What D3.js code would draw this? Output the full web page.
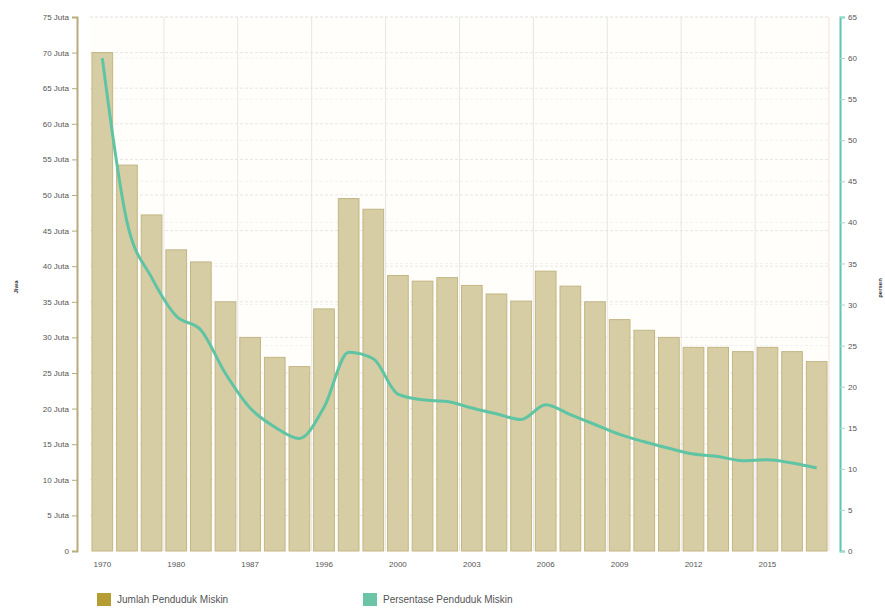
<!DOCTYPE html>
<html>
<head>
<meta charset="utf-8">
<script src="https://cdn.jsdelivr.net/npm/d3@7"></script>
<style>
  body { margin: 0; background: #fff; font-family: "Liberation Sans", Arial, sans-serif; }
  #wrapper { width: 885px; height: 614px; }
</style>
</head>
<body>
<div id="wrapper"></div>
<script>
// data
const years = ["1970", "1976", "1978", "1980", "1981", "1984", "1987", "1990", "1993", "1996",
    "1998", "1999", "2000", "2001", "2002", "2003", "2004", "2005", "2006", "2007",
    "2008", "2009", "2010", "2011", "2012", "2013", "2014", "2015", "2016", "2017"]
const jumlah = [70.0, 54.2, 47.2, 42.3, 40.6, 35.0, 30.0, 27.2, 25.9, 34.0,
    49.5, 48.0, 38.7, 37.9, 38.4, 37.3, 36.1, 35.1, 39.3, 37.2,
    35.0, 32.5, 31.0, 30.0, 28.6, 28.6, 28.0, 28.6, 28.0, 26.6]
const persen = [60.0, 40.1, 33.3, 28.6, 26.9, 21.6, 17.4, 15.1, 13.7, 17.5,
    24.2, 23.4, 19.1, 18.4, 18.2, 17.4, 16.7, 16.0, 17.8, 16.6,
    15.4, 14.2, 13.3, 12.5, 11.8, 11.5, 11.0, 11.1, 10.7, 10.1]
const labelYears = ["1970", "1980", "1987", "1996", "2000", "2003", "2006", "2009", "2012", "2015"]
const leftTicks = d3.range(0, 80, 5)
const rightTicks = d3.range(0, 70, 5)
const legendNames = ["Jumlah Penduduk Miskin", "Persentase Penduduk Miskin"]

const dimensions = {
    width: 885,
    height: 614,
    margin: { top: 17, right: 56, bottom: 63, left: 90 },
}
dimensions.boundedWidth = dimensions.width - dimensions.margin.left - dimensions.margin.right
dimensions.boundedHeight = dimensions.height - dimensions.margin.top - dimensions.margin.bottom

const wrapper = d3.select("#wrapper")
    .append("svg")
    .attr("width", dimensions.width)
    .attr("height", dimensions.height)

const bounds = wrapper.append("g")
    .attr("transform", `translate(${dimensions.margin.left},${dimensions.margin.top})`)

const rows = years.map((y, i) => ({ year: y, jumlah: jumlah[i], persen: persen[i] }))

// scales
const xScale = d3.scaleBand()
    .domain(years)
    .range([0, dimensions.boundedWidth])
    .paddingInner(0.16)
    .paddingOuter(0.08)

const yLeft = d3.scaleLinear()
    .domain([0, 75])
    .range([dimensions.boundedHeight, 0])

const yRight = d3.scaleLinear()
    .domain([0, 65])
    .range([dimensions.boundedHeight, 0])

// plot background
bounds.append("rect")
    .attr("width", dimensions.boundedWidth)
    .attr("height", dimensions.boundedHeight)
    .attr("fill", "#fffefa")

// grid
bounds.append("g").selectAll("line")
    .data(rightTicks.slice(1))
    .join("line")
    .attr("x1", 0).attr("x2", dimensions.boundedWidth)
    .attr("y1", d => yRight(d)).attr("y2", d => yRight(d))
    .attr("stroke", "#f0f3f2")
    .attr("stroke-dasharray", "3,2")

bounds.append("g").selectAll("line")
    .data(leftTicks.slice(1))
    .join("line")
    .attr("x1", 0).attr("x2", dimensions.boundedWidth)
    .attr("y1", d => yLeft(d)).attr("y2", d => yLeft(d))
    .attr("stroke", "#e6e6e6")
    .attr("stroke-dasharray", "3,2")

const step = xScale.step()
bounds.append("g").selectAll("line")
    .data(labelYears.slice(1))
    .join("line")
    .attr("x1", d => xScale(d) - step * xScale.paddingInner() / 2)
    .attr("x2", d => xScale(d) - step * xScale.paddingInner() / 2)
    .attr("y1", 0).attr("y2", dimensions.boundedHeight)
    .attr("stroke", "#e6e6e6")

bounds.append("line")
    .attr("x1", dimensions.boundedWidth).attr("x2", dimensions.boundedWidth)
    .attr("y1", 0).attr("y2", dimensions.boundedHeight)
    .attr("stroke", "#f5dede")

// bars
bounds.append("g").selectAll("rect")
    .data(rows)
    .join("rect")
    .attr("x", d => xScale(d.year))
    .attr("y", d => yLeft(d.jumlah))
    .attr("width", xScale.bandwidth())
    .attr("height", d => dimensions.boundedHeight - yLeft(d.jumlah))
    .attr("fill", "#d6cda4")
    .attr("stroke", "#c3b685")
    .attr("stroke-width", 1)

// line
const line = d3.line()
    .x(d => xScale(d.year) + xScale.bandwidth() / 2)
    .y(d => yRight(d.persen))
    .curve(d3.curveMonotoneX)

bounds.append("path")
    .datum(rows)
    .attr("d", line)
    .attr("fill", "none")
    .attr("stroke", "#5ec4a4")
    .attr("stroke-width", 3)
    .attr("stroke-linejoin", "round")

// axes
const leftAxis = bounds.append("g")
    .attr("transform", "translate(-13,0)")
    .call(d3.axisLeft(yLeft)
        .tickValues(leftTicks)
        .tickSize(5)
        .tickFormat(d => d === 0 ? "0" : d + " Juta"))
leftAxis.select(".domain").attr("stroke", "#b8ac7c").attr("stroke-width", 2)
leftAxis.selectAll(".tick line").attr("stroke", "#b8ac7c")
leftAxis.selectAll("text")
    .attr("fill", "#555")
    .style("font-size", "8px")
    .style("font-family", "Liberation Sans, Arial, sans-serif")

const rightAxis = bounds.append("g")
    .attr("transform", `translate(${dimensions.boundedWidth + 11},0)`)
    .call(d3.axisRight(yRight)
        .tickValues(rightTicks)
        .tickSize(5))
rightAxis.select(".domain").attr("stroke", "#5ec4b4").attr("stroke-width", 2)
rightAxis.selectAll(".tick line").attr("stroke", "#9fd8c8")
rightAxis.selectAll("text")
    .attr("fill", "#555")
    .style("font-size", "8px")
    .style("font-family", "Liberation Sans, Arial, sans-serif")

const xAxis = bounds.append("g")
    .attr("transform", `translate(0,${dimensions.boundedHeight})`)
    .call(d3.axisBottom(xScale)
        .tickValues(labelYears)
        .tickSize(0)
        .tickPadding(10))
xAxis.select(".domain").remove()
xAxis.selectAll("text")
    .attr("fill", "#555")
    .style("font-size", "8px")
    .style("font-family", "Liberation Sans, Arial, sans-serif")

// axis titles
wrapper.append("text")
    .attr("transform", "translate(18,287) rotate(-90)")
    .attr("text-anchor", "middle")
    .style("font-size", "6px")
    .style("font-weight", "bold")
    .attr("fill", "#333")
    .text("Jiwa")

wrapper.append("text")
    .attr("transform", "translate(882,288) rotate(-90)")
    .attr("text-anchor", "middle")
    .style("font-size", "6px")
    .style("font-weight", "bold")
    .attr("fill", "#333")
    .text("persen")

// legend
const legendColors = ["#b59c33", "#6cc4a6"]
const legendX = [97, 363]
const legend = wrapper.append("g")
    .selectAll("g")
    .data(legendNames)
    .join("g")
    .attr("transform", (d, i) => `translate(${legendX[i]},593)`)

legend.append("rect")
    .attr("width", 14)
    .attr("height", 13)
    .attr("fill", (d, i) => legendColors[i])

legend.append("text")
    .attr("x", 20)
    .attr("y", 10)
    .attr("fill", "#555")
    .style("font-size", "10px")
    .text(d => d)
</script>
</body>
</html>
